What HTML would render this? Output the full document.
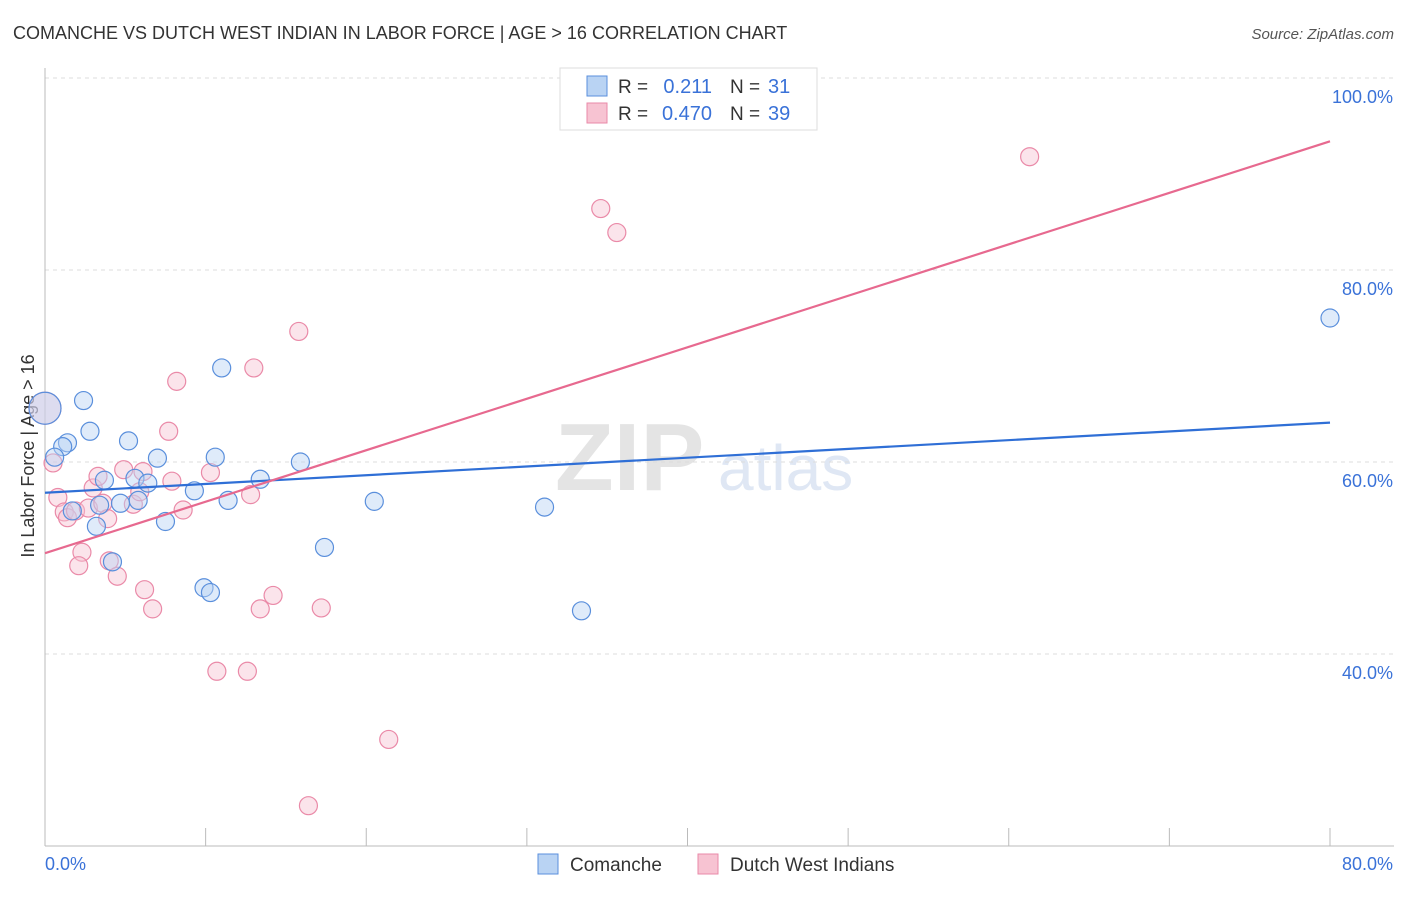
<!DOCTYPE html>
<html><head><meta charset="utf-8"><style>
body{margin:0;background:#fff;font-family:"Liberation Sans",sans-serif}
svg text{font-family:"Liberation Sans",sans-serif}
</style></head><body>
<svg id="c" width="1406" height="892"></svg>
<script>
const blueX=[0,2.4,2.8,1.4,1.1,0.6,5.2,7.0,3.7,5.6,6.4,5.8,4.7,3.4,1.7,3.2,7.5,4.2,9.3,11.4,10.6,11.0,13.4,15.9,9.9,10.3,17.4,20.5,31.1,33.4,80.0];
const blueY=[65.6,66.4,63.2,62.0,61.6,60.5,62.2,60.4,58.1,58.3,57.8,56.0,55.7,55.5,54.9,53.3,53.8,49.6,57.0,56.0,60.5,69.8,58.2,60.0,46.9,46.4,51.1,55.9,55.3,44.5,75.0];
const pinkX=[0,0.5,0.8,1.2,1.4,1.9,2.3,2.1,3.0,3.3,2.7,3.6,3.9,4.0,4.5,4.9,5.5,5.9,6.1,6.2,6.7,7.9,7.7,8.2,8.6,10.3,10.7,12.6,12.8,13.0,13.4,14.2,15.8,17.2,16.4,21.4,34.6,35.6,61.3];
const pinkY=[65.6,59.9,56.3,54.8,54.2,54.9,50.6,49.2,57.3,58.5,55.2,55.7,54.1,49.7,48.1,59.2,55.6,56.9,59.0,46.7,44.7,58.0,63.2,68.4,55.0,58.9,38.2,38.2,56.6,69.8,44.7,46.1,73.6,44.8,24.2,31.1,86.4,83.9,91.8];
const blueTrend=[56.8,64.1];
const pinkTrend=[50.5,93.4];
const yTicks=[40,60,80,100];
const yTickLabels=["40.0%","60.0%","80.0%","100.0%"];
const NS="http://www.w3.org/2000/svg";
const svg=document.getElementById('c');
const X=v=>45+v*1285/80, Y=v=>1038-v*9.6;
function el(t,a,txt){const e=document.createElementNS(NS,t);for(const k in a)e.setAttribute(k,a[k]);if(txt!==undefined)e.textContent=txt;svg.appendChild(e);return e;}
let e;
e=el('text',{x:13,y:39,'font-size':18,fill:'#333'},'COMANCHE VS DUTCH WEST INDIAN IN LABOR FORCE | AGE > 16 CORRELATION CHART');

e=el('text',{x:1394,y:39,'font-size':15,fill:'#555','text-anchor':'end','font-style':'italic'},'Source: ZipAtlas.com');

e=el('text',{x:555,y:490,'font-size':96,fill:'#e4e4e4','font-family':'Liberation Serif','font-weight':'bold'},'ZIP');

e=el('text',{x:718,y:490,'font-size':64,fill:'#dfe7f4'},'atlas');

yTicks.forEach((t,i)=>{
 e=el('line',{x1:45,x2:1394,y1:Y(t),y2:Y(t),stroke:'#ddd','stroke-dasharray':'4,4'});
 
 e=el('text',{x:1393,y:Y(t)+25,'font-size':18,fill:'#3a72d8','text-anchor':'end'},yTickLabels[i]);
 
});
e=el('line',{x1:45,x2:45,y1:68,y2:846,stroke:'#bbb'});

e=el('line',{x1:45,x2:1394,y1:846,y2:846,stroke:'#bbb'});

for(let t=0;t<=80;t+=10){
 e=el('line',{x1:X(t),x2:X(t),y1:828,y2:846,stroke:'#bbb'});
 
}
e=el('text',{x:45,y:870,'font-size':18,fill:'#3a72d8'},'0.0%');

e=el('text',{x:1393,y:870,'font-size':18,fill:'#3a72d8','text-anchor':'end'},'80.0%');

e=el('text',{x:34,y:456,'font-size':18,fill:'#333','text-anchor':'middle',transform:'rotate(-90 34 456)'},'In Labor Force | Age > 16');

function pts(xs,ys,fill,stroke,name){xs.forEach((x,i)=>{
 const r=(x===0)?16:9;
 e=el('circle',{cx:X(x),cy:Y(ys[i]),r:r,fill:fill,'fill-opacity':0.45,stroke:stroke,'stroke-width':1.2});
 
});}
pts(pinkX,pinkY,'#f7c3d2','#ea8aa8','dutch-west-indian-point');
pts(blueX,blueY,'#b9d3f3','#5a8fdc','comanche-point');
e=el('line',{x1:X(0),y1:Y(blueTrend[0]),x2:X(80),y2:Y(blueTrend[1]),stroke:'#2f6fd6','stroke-width':2.2});

e=el('line',{x1:X(0),y1:Y(pinkTrend[0]),x2:X(80),y2:Y(pinkTrend[1]),stroke:'#e7698f','stroke-width':2.2});

e=el('rect',{x:560,y:68,width:257,height:62,fill:'#fff',stroke:'#ddd'});

[[ '#b9d3f3','#5a8fdc','0.211','31',86],['#f7c3d2','#ea8aa8','0.470','39',113]].forEach((r,i)=>{
 e=el('rect',{x:587,y:r[4]-10,width:20,height:20,fill:r[0],stroke:r[1]});
 
 e=el('text',{x:618,y:r[4]+7,'font-size':19,fill:'#333'},'R =');
 
 e=el('text',{x:712,y:r[4]+7,'font-size':20,fill:'#3a72d8','text-anchor':'end'},r[2]);
 
 e=el('text',{x:730,y:r[4]+7,'font-size':19,fill:'#333'},'N =');
 
 e=el('text',{x:768,y:r[4]+7,'font-size':20,fill:'#3a72d8'},r[3]);
 
});
e=el('rect',{x:538,y:854,width:20,height:20,fill:'#b9d3f3',stroke:'#5a8fdc'});

e=el('text',{x:570,y:871,'font-size':19,fill:'#333'},'Comanche');

e=el('rect',{x:698,y:854,width:20,height:20,fill:'#f7c3d2',stroke:'#ea8aa8'});

e=el('text',{x:730,y:871,'font-size':19,fill:'#333'},'Dutch West Indians');

</script>
</body></html>
